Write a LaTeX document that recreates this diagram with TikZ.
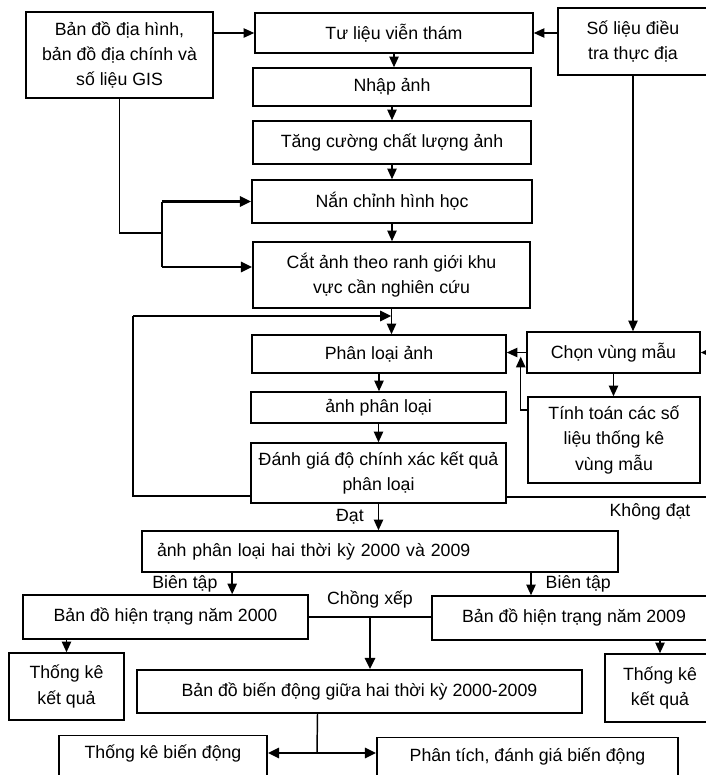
\documentclass[tikz,border=0pt]{standalone}
\usepackage{fontspec}
\setmainfont{Liberation Sans}
\usetikzlibrary{arrows.meta}

\tikzset{every picture/.style={line width=1.1pt}}
\tikzset{
  box/.style={draw, rectangle, inner sep=0pt, align=center, font=\fontsize{13.3}{19}\selectfont},
  lbl/.style={inner sep=0pt, font=\fontsize{13.3}{16}\selectfont},
  arr/.style={-{Triangle[length=8pt,width=7pt]}},
  bigarr/.style={line width=2.2pt, -{Triangle[length=8.5pt,width=7.5pt]}},
  dblarr/.style={line width=2.2pt, {Triangle[length=8.5pt,width=7.5pt]}-{Triangle[length=8.5pt,width=7.5pt]}},
}

\begin{document}
\begin{tikzpicture}[x=0.75pt,y=0.75pt,yscale=-1,xscale=1]
\useasboundingbox (0,0) rectangle (706,775);
\clip (0,0) rectangle (706,775);
%Shape: Rectangle [top row]
\node (gis) at (119.5,55) [box, minimum width=140.25pt, minimum height=64.5pt] {Bản đồ địa hình,\\bản đồ địa chính và\\số liệu GIS};
\node (tulieu) at (394,33) [box, minimum width=208.5pt, minimum height=30pt] {Tư liệu viễn thám};
\node (solieu) at (633,41.5) [box, minimum width=112.5pt, minimum height=50.25pt] {Số liệu điều\\tra thực địa};
%Shape: Rectangle [image processing]
\node (nhap) at (392,87) [box, minimum width=208.5pt, minimum height=28.5pt] {Nhập ảnh};
\node (tang) at (392,142.5) [box, minimum width=208.5pt, minimum height=32.25pt] {Tăng cường chất lượng ảnh};
\node (nan) at (392,201.5) [box, minimum width=210pt, minimum height=32.25pt] {Nắn chỉnh hình học};
\node (cat) at (391.5,275) [box, minimum width=207.75pt, minimum height=49.5pt] {Cắt ảnh theo ranh giới khu\\vực cần nghiên cứu};
%Shape: Rectangle [classification]
\node (phanloai) at (379,354) [box, minimum width=190.5pt, minimum height=28.5pt] {Phân loại ảnh};
\node (anhpl) at (378.5,407.5) [box, minimum width=191.25pt, minimum height=23.25pt] {ảnh phân loại};
\node (danhgia) at (378.5,473) [box, minimum width=191.25pt, minimum height=45pt] {Đánh giá độ chính xác kết quả\\phân loại};
\node (chon) at (613.5,352.5) [box, minimum width=129.75pt, minimum height=30.75pt] {Chọn vùng mẫu};
\node (tinh) at (614,440) [box, minimum width=129pt, minimum height=64.5pt] {Tính toán các số\\liệu thống kê\\vùng mẫu};
%Shape: Rectangle [change maps]
\node (hai) at (380,551.5) [box, minimum height=30.75pt, inner xsep=11.25pt, text width=334.5pt, align=left] {ảnh phân loại hai thời kỳ 2000 và 2009};
\node (ht2000) at (165.5,617) [box, minimum width=213.75pt, minimum height=33pt] {Bản đồ hiện trạng năm 2000};
\node (ht2009) at (574,618) [box, minimum width=213pt, minimum height=33pt] {Bản đồ hiện trạng năm 2009};
\node (tk1) at (66.5,686.5) [box, minimum width=86.25pt, minimum height=50.25pt] {Thống kê\\kết quả};
\node (tk2) at (660,688) [box, minimum width=82.5pt, minimum height=51pt] {Thống kê\\kết quả};
\node (biendong) at (359.5,691.5) [box, minimum width=333.75pt, minimum height=32.25pt] {Bản đồ biến động giữa hai thời kỳ 2000-2009};
\node (tkbd) at (163,735) [box, anchor=north, minimum width=156pt, text height=17.25pt, text depth=30pt] {Thống kê biến động};
\node (phantich) at (527.5,737) [box, anchor=north, minimum width=225.75pt, text height=18pt, text depth=30pt] {Phân tích, đánh giá biến động};

%Straight Lines [inputs]
\draw[arr] (gis.east |- tulieu.west) -- (tulieu.west);
\draw[arr] (solieu.west |- tulieu.east) -- (tulieu.east);
\draw[arr] (tulieu.south) -- (tulieu.south |- nhap.north);
\draw[arr] (nhap.south) -- (nhap.south |- tang.north);
\draw[arr] (tang.south) -- (tang.south |- nan.north);
\draw[arr] (nan.south) -- (nan.south |- cat.north);
\draw[arr] (cat.south) -- (cat.south |- phanloai.north);
%Straight Lines [GIS fork]
\coordinate (fork) at (162,233);
\coordinate (catin) at ([yshift=-6pt]cat.west);
\draw (gis.south) |- (fork);
\draw (fork |- nan.west) -- (fork |- catin);
\draw[bigarr] (fork |- nan.west) -- (nan.west);
\draw[bigarr] (fork |- catin) -- (catin);
%Straight Lines [classification]
\draw[arr] (phanloai.south) -- (phanloai.south |- anhpl.north);
\draw[arr] (anhpl.south) -- (anhpl.south |- danhgia.north);
\draw[arr] (danhgia.south) -- node[lbl, left=10.5pt] {Đạt} (danhgia.south |- hai.north);
%Straight Lines [feedback loop]
\coordinate (loop) at (133,316);
\draw ([yshift=17.25pt]danhgia.west) -| (loop);
\draw[bigarr] (loop) -- (loop -| cat.south);
%Straight Lines [training samples]
\draw[arr] (solieu.south) -- (solieu.south |- chon.north);
\draw[arr] (chon.west) -- (chon.west -| phanloai.east);
\draw[arr] (chon.south) -- (chon.south |- tinh.north);
\draw[arr] ([yshift=-22.5pt]tinh.west) -| ([xshift=10.5pt,yshift=2pt]phanloai.east);
\coordinate (kd) at (724,0);
\draw[arr] ([yshift=18pt]danhgia.east) -| (kd |- chon.east) -- (chon.east);
\node (kdlbl) at (650,512) [lbl] {Không đạt};
%Straight Lines [maps]
\draw[arr] ([xshift=50pt]ht2000.north |- hai.south) -- node[lbl, left=10.5pt] {Biên tập} ([xshift=50pt]ht2000.north);
\draw[arr] ([xshift=-32.25pt]ht2009.north |- hai.south) -- node[lbl, right=10.5pt] {Biên tập} ([xshift=-32.25pt]ht2009.north);
\draw (ht2000.east) -- coordinate[pos=0.5] (mid) node[lbl, above=6pt] {Chồng xếp} (ht2000.east -| ht2009.west);
\draw[bigarr] (mid) -- (mid |- biendong.north);
\draw[arr] (tk1.north |- ht2000.south) -- (tk1.north);
\draw[arr] (tk2.north |- ht2009.south) -- (tk2.north);
%Straight Lines [bottom]
\coordinate (split) at (317,753);
\draw ([xshift=-31.5pt]biendong.south) -- (split);
\draw[dblarr] (split -| tkbd.east) -- (split -| phantich.west);
\end{tikzpicture}
\end{document}
